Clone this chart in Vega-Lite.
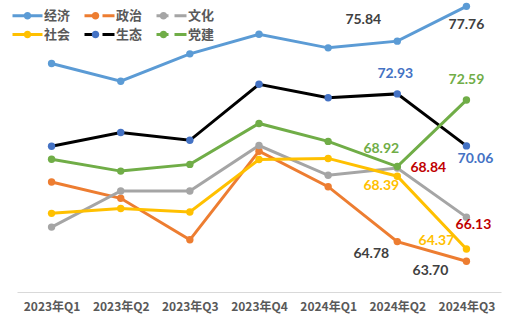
{
  "$schema": "https://vega.github.io/schema/vega-lite/v6.json",
  "autosize": "none",
  "width": 484,
  "height": 290,
  "padding": {"left": 17, "top": 2, "right": 4, "bottom": 39},
  "background": "white",
  "config": {
    "view": {"stroke": null},
    "legend": {
      "labelFont": "Noto Sans CJK SC",
      "labelFontSize": 13,
      "labelFontWeight": "bold",
      "labelColor": "#595959",
      "labelOffset": 10,
      "columnPadding": 7,
      "padding": 0,
      "symbolSize": 100,
      "symbolOpacity": 1,
      "direction": "horizontal"
    }
  },
  "data": {
    "values": [
      {"series": "经济", "quarter": "2023年Q1", "value": 74.61},
      {"series": "经济", "quarter": "2023年Q2", "value": 73.63},
      {"series": "经济", "quarter": "2023年Q3", "value": 75.14},
      {"series": "经济", "quarter": "2023年Q4", "value": 76.22},
      {"series": "经济", "quarter": "2024年Q1", "value": 75.47},
      {"series": "经济", "quarter": "2024年Q2", "value": 75.84},
      {"series": "经济", "quarter": "2024年Q3", "value": 77.76},
      {"series": "政治", "quarter": "2023年Q1", "value": 68.07},
      {"series": "政治", "quarter": "2023年Q2", "value": 67.17},
      {"series": "政治", "quarter": "2023年Q3", "value": 64.88},
      {"series": "政治", "quarter": "2023年Q4", "value": 69.77},
      {"series": "政治", "quarter": "2024年Q1", "value": 67.81},
      {"series": "政治", "quarter": "2024年Q2", "value": 64.78},
      {"series": "政治", "quarter": "2024年Q3", "value": 63.70},
      {"series": "文化", "quarter": "2023年Q1", "value": 65.58},
      {"series": "文化", "quarter": "2023年Q2", "value": 67.57},
      {"series": "文化", "quarter": "2023年Q3", "value": 67.57},
      {"series": "文化", "quarter": "2023年Q4", "value": 70.08},
      {"series": "文化", "quarter": "2024年Q1", "value": 68.44},
      {"series": "文化", "quarter": "2024年Q2", "value": 68.84},
      {"series": "文化", "quarter": "2024年Q3", "value": 66.13},
      {"series": "社会", "quarter": "2023年Q1", "value": 66.34},
      {"series": "社会", "quarter": "2023年Q2", "value": 66.61},
      {"series": "社会", "quarter": "2023年Q3", "value": 66.41},
      {"series": "社会", "quarter": "2023年Q4", "value": 69.31},
      {"series": "社会", "quarter": "2024年Q1", "value": 69.37},
      {"series": "社会", "quarter": "2024年Q2", "value": 68.39},
      {"series": "社会", "quarter": "2024年Q3", "value": 64.37},
      {"series": "生态", "quarter": "2023年Q1", "value": 70.04},
      {"series": "生态", "quarter": "2023年Q2", "value": 70.80},
      {"series": "生态", "quarter": "2023年Q3", "value": 70.37},
      {"series": "生态", "quarter": "2023年Q4", "value": 73.46},
      {"series": "生态", "quarter": "2024年Q1", "value": 72.72},
      {"series": "生态", "quarter": "2024年Q2", "value": 72.93},
      {"series": "生态", "quarter": "2024年Q3", "value": 70.06},
      {"series": "党建", "quarter": "2023年Q1", "value": 69.32},
      {"series": "党建", "quarter": "2023年Q2", "value": 68.67},
      {"series": "党建", "quarter": "2023年Q3", "value": 69.04},
      {"series": "党建", "quarter": "2023年Q4", "value": 71.30},
      {"series": "党建", "quarter": "2024年Q1", "value": 70.31},
      {"series": "党建", "quarter": "2024年Q2", "value": 68.92},
      {"series": "党建", "quarter": "2024年Q3", "value": 72.59}
    ]
  },
  "encoding": {
    "x": {
      "field": "quarter",
      "type": "ordinal",
      "sort": null,
      "scale": {"paddingOuter": 0.5},
      "axis": {
        "title": null,
        "ticks": false,
        "grid": false,
        "labelAngle": 0,
        "domainColor": "#d9d9d9",
        "domainWidth": 1,
        "labelFont": "Noto Sans CJK SC",
        "labelFontSize": 12,
        "labelFontWeight": "bold",
        "labelColor": "#595959",
        "labelPadding": 9
      }
    },
    "y": {
      "field": "value",
      "type": "quantitative",
      "scale": {"domain": [62, 78], "zero": false, "nice": false},
      "axis": null
    }
  },
  "layer": [
    {
      "mark": {"type": "line", "strokeWidth": 3},
      "encoding": {
        "stroke": {
          "field": "series",
          "type": "nominal",
          "scale": {
            "domain": ["经济", "政治", "文化", "社会", "生态", "党建"],
            "range": ["#5b9bd5", "#ed7d31", "#a5a5a5", "#ffc000", "#000000", "#70ad47"]
          },
          "legend": {
            "title": null,
            "orient": "none",
            "legendX": 4,
            "legendY": 7,
            "columns": 3,
            "rowPadding": 5,
            "symbolType": "M-3,0L-0.6,0M0.6,0L3,0",
            "symbolStrokeWidth": 3,
            "zindex": 1
          }
        }
      }
    },
    {
      "mark": {"type": "point", "filled": true, "size": 55, "opacity": 1},
      "encoding": {
        "fill": {
          "field": "series",
          "type": "nominal",
          "sort": ["经济", "政治", "文化", "社会", "生态", "党建"],
          "scale": {
            "range": ["#5b9bd5", "#ed7d31", "#a5a5a5", "#ffc000", "#4472c4", "#70ad47"]
          },
          "legend": {
            "title": null,
            "orient": "none",
            "legendX": 4,
            "legendY": 7,
            "columns": 3,
            "rowPadding": 5,
            "symbolSize": 169,
            "symbolType": "M-2.5385,0L2.5385,0M0.577,0A0.577,0.577,0,1,1,-0.577,0A0.577,0.577,0,1,1,0.577,0Z",
            "symbolStrokeColor": "transparent",
            "symbolStrokeWidth": 0,
            "labelOpacity": 0,
            "zindex": 2
          }
        }
      }
    },
    {
      "transform": [{"filter": "datum.series == '经济' && datum.quarter == '2024年Q2'"}],
      "mark": {"type": "text", "font": "Lato", "fontSize": 14, "fontWeight": "bold", "color": "#404040", "dx": -34, "dy": -21},
      "encoding": {"text": {"field": "value", "type": "quantitative", "format": ".2f"}}
    },
    {
      "transform": [{"filter": "datum.series == '经济' && datum.quarter == '2024年Q3'"}],
      "mark": {"type": "text", "font": "Lato", "fontSize": 14, "fontWeight": "bold", "color": "#404040", "dx": 0, "dy": 19},
      "encoding": {"text": {"field": "value", "type": "quantitative", "format": ".2f"}}
    },
    {
      "transform": [{"filter": "datum.series == '生态' && datum.quarter == '2024年Q2'"}],
      "mark": {"type": "text", "font": "Lato", "fontSize": 14, "fontWeight": "bold", "color": "#4472c4", "dx": -2, "dy": -20},
      "encoding": {"text": {"field": "value", "type": "quantitative", "format": ".2f"}}
    },
    {
      "transform": [{"filter": "datum.series == '生态' && datum.quarter == '2024年Q3'"}],
      "mark": {"type": "text", "font": "Lato", "fontSize": 14, "fontWeight": "bold", "color": "#4472c4", "dx": 9, "dy": 13},
      "encoding": {"text": {"field": "value", "type": "quantitative", "format": ".2f"}}
    },
    {
      "transform": [{"filter": "datum.series == '党建' && datum.quarter == '2024年Q2'"}],
      "mark": {"type": "text", "font": "Lato", "fontSize": 14, "fontWeight": "bold", "color": "#70ad47", "dx": -16, "dy": -18},
      "encoding": {"text": {"field": "value", "type": "quantitative", "format": ".2f"}}
    },
    {
      "transform": [{"filter": "datum.series == '党建' && datum.quarter == '2024年Q3'"}],
      "mark": {"type": "text", "font": "Lato", "fontSize": 14, "fontWeight": "bold", "color": "#70ad47", "dx": 0, "dy": -20},
      "encoding": {"text": {"field": "value", "type": "quantitative", "format": ".2f"}}
    },
    {
      "transform": [{"filter": "datum.series == '文化' && datum.quarter == '2024年Q2'"}],
      "mark": {"type": "text", "font": "Lato", "fontSize": 14, "fontWeight": "bold", "color": "#c00000", "dx": 31, "dy": 0},
      "encoding": {"text": {"field": "value", "type": "quantitative", "format": ".2f"}}
    },
    {
      "transform": [{"filter": "datum.series == '文化' && datum.quarter == '2024年Q3'"}],
      "mark": {"type": "text", "font": "Lato", "fontSize": 14, "fontWeight": "bold", "color": "#c00000", "dx": 7, "dy": 8},
      "encoding": {"text": {"field": "value", "type": "quantitative", "format": ".2f"}}
    },
    {
      "transform": [{"filter": "datum.series == '社会' && datum.quarter == '2024年Q2'"}],
      "mark": {"type": "text", "font": "Lato", "fontSize": 14, "fontWeight": "bold", "color": "#ffc000", "dx": -16, "dy": 10},
      "encoding": {"text": {"field": "value", "type": "quantitative", "format": ".2f"}}
    },
    {
      "transform": [{"filter": "datum.series == '社会' && datum.quarter == '2024年Q3'"}],
      "mark": {"type": "text", "font": "Lato", "fontSize": 14, "fontWeight": "bold", "color": "#ffc000", "dx": -30, "dy": -8},
      "encoding": {"text": {"field": "value", "type": "quantitative", "format": ".2f"}}
    },
    {
      "transform": [{"filter": "datum.series == '政治' && datum.quarter == '2024年Q2'"}],
      "mark": {"type": "text", "font": "Lato", "fontSize": 14, "fontWeight": "bold", "color": "#404040", "dx": -26, "dy": 12},
      "encoding": {"text": {"field": "value", "type": "quantitative", "format": ".2f"}}
    },
    {
      "transform": [{"filter": "datum.series == '政治' && datum.quarter == '2024年Q3'"}],
      "mark": {"type": "text", "font": "Lato", "fontSize": 14, "fontWeight": "bold", "color": "#404040", "dx": -36, "dy": 10},
      "encoding": {"text": {"field": "value", "type": "quantitative", "format": ".2f"}}
    }
  ]
}
